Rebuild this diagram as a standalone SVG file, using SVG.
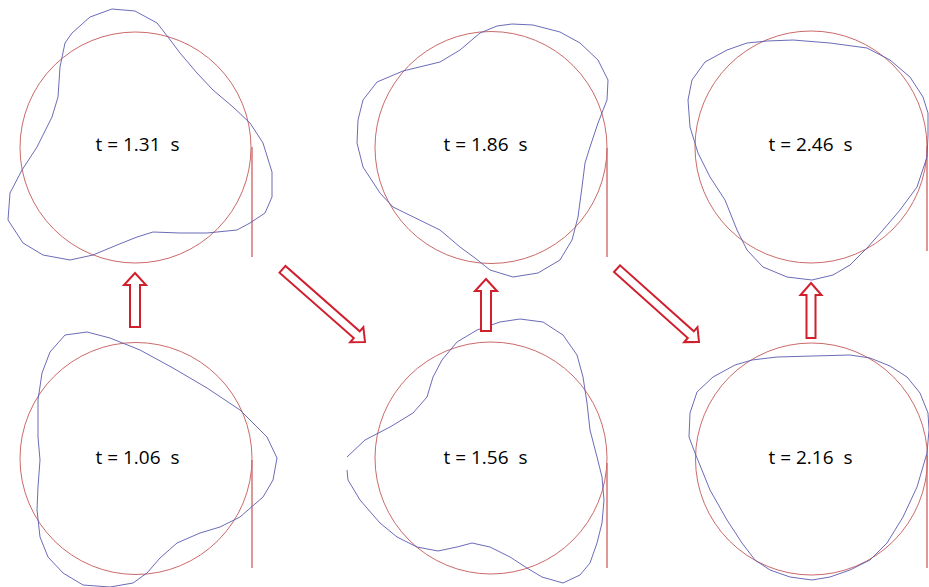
<svg xmlns="http://www.w3.org/2000/svg" width="929" height="587" viewBox="0 0 929 587">
<style>
.ref{fill:none;stroke:#c0504d;stroke-width:1;opacity:0.85}
.axis{fill:none;stroke:#d06a6a;stroke-width:1.4}
.wave{fill:none;stroke:#5b5bb0;stroke-width:1;stroke-linejoin:round;opacity:0.9}
.lbl{font-family:"Open Sans","Liberation Sans",sans-serif;font-size:19px;fill:#000;text-anchor:middle;white-space:pre}
.arr{fill:#fff;stroke:#d0202e;stroke-width:2;stroke-linejoin:miter}
</style>
<rect width="929" height="587" fill="#fff"/>

<g id="panel-131">
<circle class="ref" cx="135.5" cy="147.5" r="115.5"/>
<line class="axis" x1="252" y1="147" x2="252" y2="257"/>
<polygon class="wave" points="112,9 135,11 157,23 168,37 180,53 197,73 213,90 233,107 250,123 263,143 272,172 272,197 265,213 250,223 237,230 207,233 180,233 153,232 137,237 117,245 93,255 70,260 43,255 23,243 8,220 10,193 22,170 37,147 52,117 58,97 60,67 65,43 72,33 90,17"/>
<text class="lbl" x="137.5" y="150.5" xml:space="preserve">t = 1.31  s</text>
</g>

<g id="panel-186">
<circle class="ref" cx="491" cy="147.5" r="116"/>
<line class="axis" x1="607" y1="148" x2="607" y2="257"/>
<polygon class="wave" points="512,24 533,25 560,32 580,43 598,60 608,80 607,100 598,123 590,147 585,163 582,187 578,217 572,240 560,260 538,273 513,277 490,270 475,258 460,247 440,230 393,207 380,193 363,167 357,143 358,120 363,100 377,82 403,71 440,62 460,50 480,33 497,26"/>
<text class="lbl" x="485.5" y="150.5" xml:space="preserve">t = 1.86  s</text>
</g>

<g id="panel-246">
<circle class="ref" cx="811" cy="147" r="116"/>
<line class="axis" x1="927" y1="146" x2="927" y2="251"/>
<polygon class="wave" points="767,41 793,40 830,43 867,48 890,60 910,77 923,97 928,113 928,135 927,157 917,187 900,210 883,230 867,248 850,265 833,275 812,280 787,277 763,267 747,250 737,230 725,200 710,177 698,153 690,127 688,100 692,80 705,62 727,50 747,43"/>
<text class="lbl" x="810.5" y="150.5" xml:space="preserve">t = 2.46  s</text>
</g>

<g id="panel-106">
<circle class="ref" cx="136" cy="458.5" r="116"/>
<line class="axis" x1="252" y1="460" x2="252" y2="568"/>
<polygon class="wave" points="65,335 87,332 110,338 140,350 173,368 207,388 240,410 267,437 277,458 273,480 263,497 240,517 220,527 200,533 177,543 160,558 147,573 133,583 110,587 83,585 63,573 48,557 40,537 37,510 38,487 40,460 38,437 38,400 42,373 50,352"/>
<text class="lbl" x="137.5" y="463.5" xml:space="preserve">t = 1.06  s</text>
</g>

<g id="panel-156">
<circle class="ref" cx="491" cy="458" r="116"/>
<line class="axis" x1="607" y1="463" x2="607" y2="568"/>
<polyline class="wave" points="347,470 348,480 360,500 380,523 397,537 417,547 438,551 457,547 472,543 490,547 510,557 527,568 542,577 563,583 580,575 590,563 597,543 602,523 604,500 602,477 597,457 590,430 587,403 583,377 577,355 563,335 543,322 520,319 500,322 477,330 457,342 442,360 433,377 427,397 413,413 390,427 365,440 347,457"/>
<text class="lbl" x="485.5" y="463.5" xml:space="preserve">t = 1.56  s</text>
</g>

<g id="panel-216">
<circle class="ref" cx="811.5" cy="459" r="116"/>
<line class="axis" x1="927" y1="455" x2="927" y2="568"/>
<polygon class="wave" points="752,360 777,357 813,356 850,355 870,358 890,366 907,377 920,393 928,413 929,430 927,453 917,487 903,517 887,543 870,560 850,570 830,577 812,580 790,577 770,570 755,560 742,543 727,520 710,490 695,453 689,437 690,413 697,392 713,377 735,365"/>
<text class="lbl" x="810.5" y="463.5" xml:space="preserve">t = 2.16  s</text>
</g>

<g id="connectors">
<path class="arr" transform="translate(135,273)" d="M0,0 L11,12 L5,12 L5,54 L-5,54 L-5,12 L-11,12 Z"/>
<path class="arr" transform="translate(486,279)" d="M0,0 L11,12 L5,12 L5,52 L-5,52 L-5,12 L-11,12 Z"/>
<path class="arr" transform="translate(811,283)" d="M0,0 L10.5,12 L4.5,12 L4.5,55 L-4.5,55 L-4.5,12 L-10.5,12 Z"/>
<path class="arr" transform="translate(365,342) rotate(131.4)" d="M0,0 L10,11 L4.5,11 L4.5,110 L-4.5,110 L-4.5,11 L-10,11 Z"/>
<path class="arr" transform="translate(699,342) rotate(131.8)" d="M0,0 L10,11 L4.5,11 L4.5,110 L-4.5,110 L-4.5,11 L-10,11 Z"/>
</g>
</svg>
